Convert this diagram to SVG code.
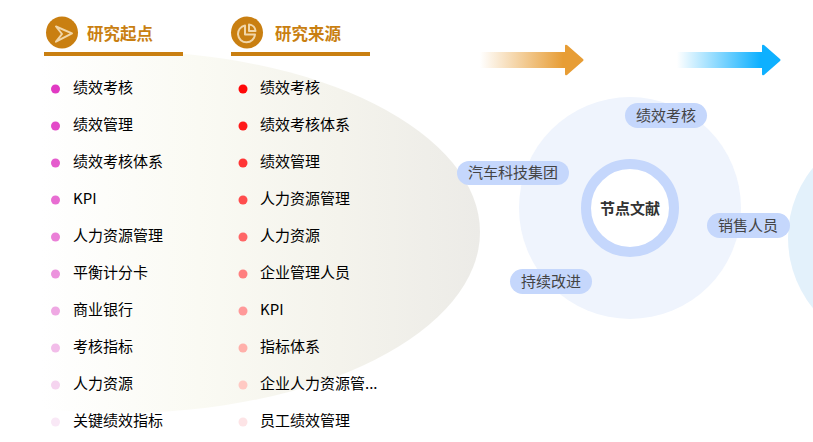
<svg xmlns="http://www.w3.org/2000/svg" width="813" height="442" viewBox="0 0 813 442">
<style>
text{font-family:"Noto Sans CJK SC","Noto Sans",sans-serif}
.t{font-size:15px;fill:#000}
.h{font-size:16.500px;font-weight:700;fill:#c97f11}
.p{font-size:15px;fill:#444;text-anchor:middle}
.pill{fill:#c5d7fc}
.bar{fill:#c97f11}
.i{fill:none;stroke:#f1d6a8;stroke-width:2;stroke-linejoin:round}
</style>
<defs>
<linearGradient id="e" x1="40" x2="480" y1="0" y2="0" gradientUnits="userSpaceOnUse"><stop offset="0" stop-color="#fff"/><stop offset=".36" stop-color="#fafaf3"/><stop offset=".68" stop-color="#f4f3ec"/><stop offset="1" stop-color="#ecebe7"/></linearGradient>
<linearGradient id="a1" x1="480" x2="584" y1="0" y2="0" gradientUnits="userSpaceOnUse"><stop offset="0" stop-color="#e79d35" stop-opacity="0"/><stop offset=".8" stop-color="#e79d35"/></linearGradient>
<linearGradient id="a2" x1="677" x2="781" y1="0" y2="0" gradientUnits="userSpaceOnUse"><stop offset="0" stop-color="#0eb0ff" stop-opacity="0"/><stop offset=".8" stop-color="#0eb0ff"/></linearGradient>
<clipPath id="c"><rect x="42" y="0" width="460" height="442"/></clipPath>
</defs>
<ellipse cx="120" cy="232" rx="360" ry="181" fill="url(#e)" clip-path="url(#c)"/>
<circle cx="899" cy="238" r="111" fill="#e3f1fb"/>
<g id="connectors"><path d="M480 52h85v-6q0-2 2-1l16 14q1 1 0 2l-16 14q-2 1-2-1v-6h-85z" fill="url(#a1)"/><path d="M677 52h85v-6q0-2 2-1l16 14q1 1 0 2l-16 14q-2 1-2-1v-6h-85z" fill="url(#a2)"/></g>
<g id="head-start"><circle cx="62" cy="32.500" r="16" fill="#c97f11"/><path class="i" d="M56 26.500l16 6.800-16 8.400 6-7.700z"/><text class="h" x="87" y="39.500">研究起点</text><rect class="bar" x="44" y="52" width="139" height="4"/></g>
<g id="head-source"><circle cx="247" cy="32.500" r="16" fill="#c97f11"/><path class="i" d="M245 25.500a8.500 8.500 0 1 0 10 9h-10z"/><path class="i" d="M249 24.500a7 7 0 0 1 6.500 6.500h-6.500z"/><text class="h" x="275" y="39.500">研究来源</text><rect class="bar" x="231" y="52" width="139" height="4"/></g>
<g id="left-list">
<circle cx="55.500" cy="89" r="4.500" fill="#e13ac3"/><text class="t" x="73" y="93">绩效考核</text>
<circle cx="55.500" cy="126" r="4.500" fill="#e34ac8"/><text class="t" x="73" y="130">绩效管理</text>
<circle cx="55.500" cy="163" r="4.500" fill="#e55bcd"/><text class="t" x="73" y="167">绩效考核体系</text>
<circle cx="55.500" cy="200" r="4.500" fill="#e86dd2"/><text class="t" x="73" y="204">KPI</text>
<circle cx="55.500" cy="237" r="4.500" fill="#ea80d7"/><text class="t" x="73" y="241">人力资源管理</text>
<circle cx="55.500" cy="274" r="4.500" fill="#ec93dd"/><text class="t" x="73" y="278">平衡计分卡</text>
<circle cx="55.500" cy="311" r="4.500" fill="#efa8e3"/><text class="t" x="73" y="315">商业银行</text>
<circle cx="55.500" cy="348" r="4.500" fill="#f2bde9"/><text class="t" x="73" y="352">考核指标</text>
<circle cx="55.500" cy="385" r="4.500" fill="#f5d4ef"/><text class="t" x="73" y="389">人力资源</text>
<circle cx="55.500" cy="422" r="4.500" fill="#f9e8f6"/><text class="t" x="73" y="426">关键绩效指标</text>
</g>
<g id="right-list">
<circle cx="243" cy="89" r="4.500" fill="#ff0808"/><text class="t" x="260" y="93">绩效考核</text>
<circle cx="243" cy="126" r="4.500" fill="#ff1a1a"/><text class="t" x="260" y="130">绩效考核体系</text>
<circle cx="243" cy="163" r="4.500" fill="#ff3535"/><text class="t" x="260" y="167">绩效管理</text>
<circle cx="243" cy="200" r="4.500" fill="#ff4d4d"/><text class="t" x="260" y="204">人力资源管理</text>
<circle cx="243" cy="237" r="4.500" fill="#ff6666"/><text class="t" x="260" y="241">人力资源</text>
<circle cx="243" cy="274" r="4.500" fill="#ff7f7f"/><text class="t" x="260" y="278">企业管理人员</text>
<circle cx="243" cy="311" r="4.500" fill="#ff9999"/><text class="t" x="260" y="315">KPI</text>
<circle cx="243" cy="348" r="4.500" fill="#ffb0aa"/><text class="t" x="260" y="352">指标体系</text>
<circle cx="243" cy="385" r="4.500" fill="#ffc9c3"/><text class="t" x="260" y="389">企业人力资源管...</text>
<circle cx="243" cy="422" r="4.500" fill="#fde4e6"/><text class="t" x="260" y="426">员工绩效管理</text>
</g>
<g id="hub"><circle cx="630" cy="208" r="111" fill="#eff4fd"/><circle cx="630" cy="208" r="44" fill="#fff" stroke="#c5d7fc" stroke-width="10"/><text x="630" y="214" text-anchor="middle" font-size="15" font-weight="700" fill="#333">节点文献</text></g>
<g id="n1"><rect class="pill" x="625" y="103" width="82" height="25" rx="12.500"/><text class="p" x="666" y="121">绩效考核</text></g>
<g id="n2"><rect class="pill" x="457" y="161" width="112" height="24" rx="12"/><text class="p" x="513" y="178">汽车科技集团</text></g>
<g id="n3"><rect class="pill" x="707" y="213" width="83" height="25" rx="12.500"/><text class="p" x="748" y="231">销售人员</text></g>
<g id="n4"><rect class="pill" x="510" y="269" width="82" height="25" rx="12.500"/><text class="p" x="551" y="287">持续改进</text></g>
</svg>
